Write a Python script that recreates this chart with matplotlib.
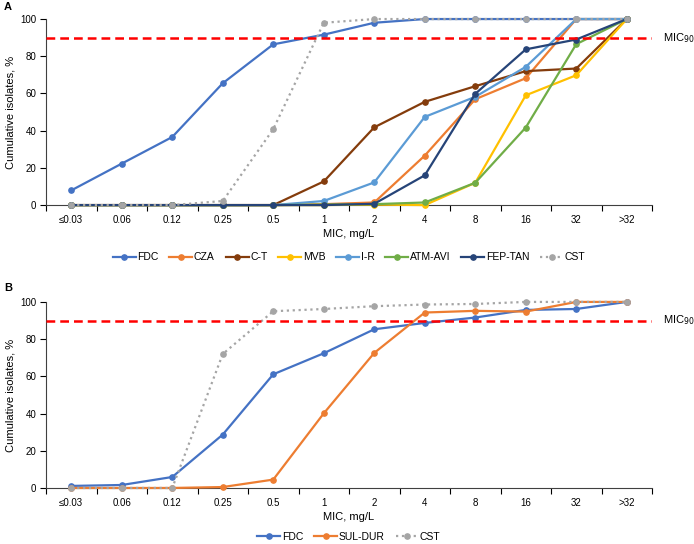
import numpy as np
import matplotlib.pyplot as plt

plt.rcParams['font.family'] = ['Liberation Sans', 'DejaVu Sans']
plt.rcParams['font.size'] = 7

MIC_LABELS = ['≤0.03', '0.06', '0.12', '0.25', '0.5', '1', '2', '4', '8', '16', '32', '>32']

# panel A: cumulative % of isolates
A_FDC = [7.9, 22.3, 36.6, 65.5, 86.4, 91.6, 98.0, 100, 100, 100, 100, 100]
A_CZA = [0, 0, 0, 0, 0, 0.5, 1.4, 26.6, 56.9, 68.2, 100, 100]
A_CT = [0, 0, 0, 0, 0, 12.7, 41.8, 55.5, 63.9, 72.0, 73.4, 100]
A_MVB = [0, 0, 0, 0, 0, 0, 0.3, 0, 12.0, 59.0, 69.8, 100]
A_IR = [0, 0, 0, 0, 0, 2.2, 12.2, 47.4, 58.2, 74.3, 100, 100]
A_ATM = [0, 0, 0, 0, 0, 0.3, 0.5, 1.4, 12.0, 41.7, 86.5, 100]
A_FEP = [0, 0, 0, 0, 0, 0, 0.7, 16.0, 59.8, 83.7, 89.0, 100]
A_CST = [0, 0, 0, 2.2, 40.8, 98.0, 100, 100, 100, 100, 100, 100]

# panel B
B_FDC = [1.1, 1.6, 5.9, 28.7, 61.1, 72.4, 85.3, 88.7, 91.6, 95.7, 96.2, 100]
B_SUL = [0, 0, 0, 0.5, 4.5, 40.1, 72.6, 94.3, 95.2, 94.8, 100, 100]
B_CST = [0, 0, 0, 72.0, 95.0, 96.2, 97.7, 98.6, 98.9, 100, 100, 100]

MIC90 = 90

COLORS = {
    'FDC': '#4472C4', 'CZA': '#ED7D31', 'C-T': '#843C0C', 'MVB': '#FFC000',
    'I-R': '#5B9BD5', 'ATM-AVI': '#70AD47', 'FEP-TAN': '#264478',
    'SUL-DUR': '#ED7D31', 'CST': '#A5A5A5',
}


def draw_panel(ax, series, legend_y):
    x = np.arange(len(MIC_LABELS))
    for name, vals in series:
        ls = ':' if name == 'CST' else '-'
        ax.plot(x, vals, ls, color=COLORS[name], lw=1.6, marker='o', ms=3.8,
                label=name, clip_on=False, zorder=3)
    ax.axhline(MIC90, color='#FF0000', ls=(0, (3.5, 2)), lw=1.8, zorder=4)
    ax.text(1.018, MIC90, 'MIC$_{90}$', transform=ax.get_yaxis_transform(),
            va='center', ha='left', fontsize=8)

    ax.set_xlim(-0.5, len(MIC_LABELS) - 0.5)
    ax.set_ylim(0, 100)
    ax.set_yticks(range(0, 101, 20))
    ax.set_xticks(x)
    ax.set_xticklabels(MIC_LABELS)
    ax.set_xticks(np.arange(-0.5, len(MIC_LABELS)), minor=True)
    ax.tick_params(axis='x', which='major', length=0, pad=7)
    ax.tick_params(axis='x', which='minor', length=4, width=0.8, direction='out')
    ax.tick_params(axis='y', length=4, width=0.8, pad=3)
    for s in ['top', 'right']:
        ax.spines[s].set_visible(False)
    ax.spines['left'].set_color('#404040')
    ax.spines['bottom'].set_color('#404040')
    ax.set_xlabel('MIC, mg/L', fontsize=8, labelpad=3)
    ax.set_ylabel('Cumulative isolates, %', fontsize=8, labelpad=3)
    ax.legend(loc='center', bbox_to_anchor=(0.5, legend_y), ncol=len(series),
              frameon=False, handlelength=2.2, handletextpad=0.15,
              columnspacing=1.05, fontsize=7.5)


fig = plt.figure(figsize=(6.94, 5.44), dpi=100)
ax_a = fig.add_axes([0.0663, 0.623, 0.8732, 0.342])
ax_b = fig.add_axes([0.0663, 0.103, 0.8732, 0.342])

draw_panel(ax_a, [('FDC', A_FDC), ('CZA', A_CZA), ('C-T', A_CT), ('MVB', A_MVB),
                  ('I-R', A_IR), ('ATM-AVI', A_ATM), ('FEP-TAN', A_FEP),
                  ('CST', A_CST)], -0.28)
draw_panel(ax_b, [('FDC', B_FDC), ('SUL-DUR', B_SUL), ('CST', B_CST)], -0.262)

fig.text(0.006, 0.987, 'A', fontweight='bold', fontsize=8, va='center')
fig.text(0.006, 0.471, 'B', fontweight='bold', fontsize=8, va='center')

fig.savefig('out.png', dpi=100)
